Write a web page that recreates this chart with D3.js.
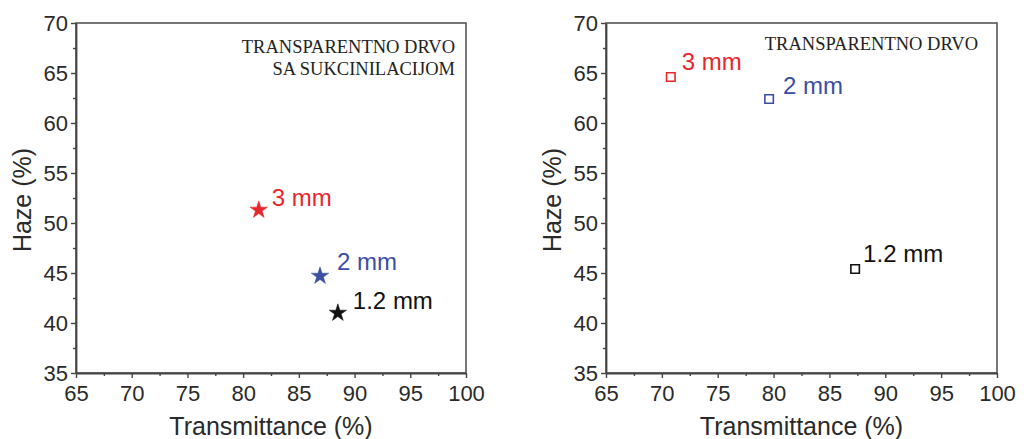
<!DOCTYPE html>
<html>
<head>
<meta charset="utf-8">
<script src="https://cdn.jsdelivr.net/npm/d3@7"></script>
<style>
  html, body { margin: 0; padding: 0; background: #fff; }
  svg { display: block; }
</style>
</head>
<body>
<svg id="chart" width="1027" height="439"></svg>
<script>
// ---- data ----
const categories = ["1.2 mm", "2 mm", "3 mm"];
const leftTransmittance = [88.5, 86.9, 81.4];
const leftHaze = [41.0, 44.7, 51.3];
const rightTransmittance = [87.3, 79.6, 70.8];
const rightHaze = [45.4, 62.4, 64.6];
const xTicks = [65, 70, 75, 80, 85, 90, 95, 100];
const yTicks = [35, 40, 45, 50, 55, 60, 65, 70];
const xMinorTicks = [67.5, 72.5, 77.5, 82.5, 87.5, 92.5, 97.5];
const yMinorTicks = [37.5, 42.5, 47.5, 52.5, 57.5, 62.5, 67.5];
const leftNote = ["TRANSPARENTNO DRVO", "SA SUKCINILACIJOM"];
const rightNote = ["TRANSPARENTNO DRVO"];
const xTitle = "Transmittance (%)";
const yTitle = "Haze (%)";

// ---- style / layout ----
const seriesColors = ["#111111", "#3b4ea3", "#e8262c"];
const sansFont = "'Liberation Sans', Arial, sans-serif";
const serifFont = "'Liberation Serif', 'Times New Roman', serif";

const svg = d3.select("#chart");

function panel(cfg) {
  const x = d3.scaleLinear().domain([65, 100]).range([cfg.left, cfg.right]);
  const y = d3.scaleLinear().domain([35, 70]).range([cfg.bottom, cfg.top]);
  const g = svg.append("g");

  g.append("rect")
    .attr("x", cfg.left).attr("y", cfg.top)
    .attr("width", cfg.right - cfg.left).attr("height", cfg.bottom - cfg.top)
    .attr("fill", "none").attr("stroke", "#555").attr("stroke-width", 1.6);

  const xMinor = g.append("g").attr("transform", `translate(0,${cfg.bottom})`)
    .call(d3.axisBottom(x).tickValues(xMinorTicks).tickSize(3).tickFormat(""));
  const yMinor = g.append("g").attr("transform", `translate(${cfg.left},0)`)
    .call(d3.axisLeft(y).tickValues(yMinorTicks).tickSize(3).tickFormat(""));
  [xMinor, yMinor].forEach(a => {
    a.select(".domain").remove();
    a.selectAll("line").attr("stroke", "#444").attr("stroke-width", 1.4);
  });

  const xAx = g.append("g").attr("transform", `translate(0,${cfg.bottom})`)
    .call(d3.axisBottom(x).tickValues(xTicks).tickSize(5).tickPadding(7).tickSizeOuter(0));
  const yAx = g.append("g").attr("transform", `translate(${cfg.left},0)`)
    .call(d3.axisLeft(y).tickValues(yTicks).tickSize(5).tickPadding(3).tickSizeOuter(0));
  [xAx, yAx].forEach(a => {
    a.select(".domain").attr("stroke", "#444").attr("stroke-width", 1.8);
    a.selectAll("line").attr("stroke", "#444").attr("stroke-width", 1.4);
    a.selectAll("text").attr("font-family", sansFont).attr("font-size", 22).attr("fill", "#2a2a2a");
  });

  g.append("text")
    .attr("x", (cfg.left + cfg.right) / 2).attr("y", cfg.bottom + 62)
    .attr("text-anchor", "middle")
    .attr("font-family", sansFont).attr("font-size", 25).attr("fill", "#2a2a2a")
    .text(xTitle);
  g.append("text")
    .attr("transform", `translate(${cfg.left - 45},${(cfg.top + cfg.bottom) / 2 + 2}) rotate(-90)`)
    .attr("text-anchor", "middle")
    .attr("font-family", sansFont).attr("font-size", 25).attr("fill", "#2a2a2a")
    .text(yTitle);

  cfg.note.forEach((t, i) => {
    g.append("text")
      .attr("x", cfg.noteRight).attr("y", cfg.noteTop + i * 22)
      .attr("text-anchor", "end")
      .attr("font-family", serifFont).attr("font-size", 18.5).attr("fill", "#222")
      .text(t);
  });

  const pts = categories.map((c, i) => ({ c, i, tx: cfg.tx[i], hz: cfg.hz[i] }));
  g.selectAll("path.pt").data(pts).enter().append("path")
    .attr("class", "pt")
    .attr("transform", d => `translate(${x(d.tx)},${y(d.hz)})`)
    .attr("d", d3.symbol().type(cfg.symbol).size(cfg.symbolSize))
    .attr("fill", d => cfg.filled ? seriesColors[d.i] : "none")
    .attr("stroke", d => seriesColors[d.i])
    .attr("stroke-width", cfg.filled ? 0.5 : 1.6);

  g.selectAll("text.lbl").data(pts).enter().append("text")
    .attr("class", "lbl")
    .attr("x", d => x(d.tx) + cfg.labelOffsets[d.i][0])
    .attr("y", d => y(d.hz) + cfg.labelOffsets[d.i][1])
    .attr("font-family", sansFont).attr("font-size", 24)
    .attr("fill", d => seriesColors[d.i])
    .text(d => d.c);
}

panel({
  left: 76, right: 466, top: 23, bottom: 373,
  tx: leftTransmittance, hz: leftHaze,
  symbol: d3.symbolStar, symbolSize: 95, filled: true,
  labelOffsets: [[15, -4], [17, -6], [13, -4]],
  note: leftNote, noteRight: 455, noteTop: 53
});

panel({
  left: 606, right: 997, top: 23, bottom: 373,
  tx: rightTransmittance, hz: rightHaze,
  symbol: d3.symbolSquare, symbolSize: 72, filled: false,
  labelOffsets: [[8, -7], [14, -5], [11, -7]],
  note: rightNote, noteRight: 978, noteTop: 50
});
</script>
</body>
</html>
